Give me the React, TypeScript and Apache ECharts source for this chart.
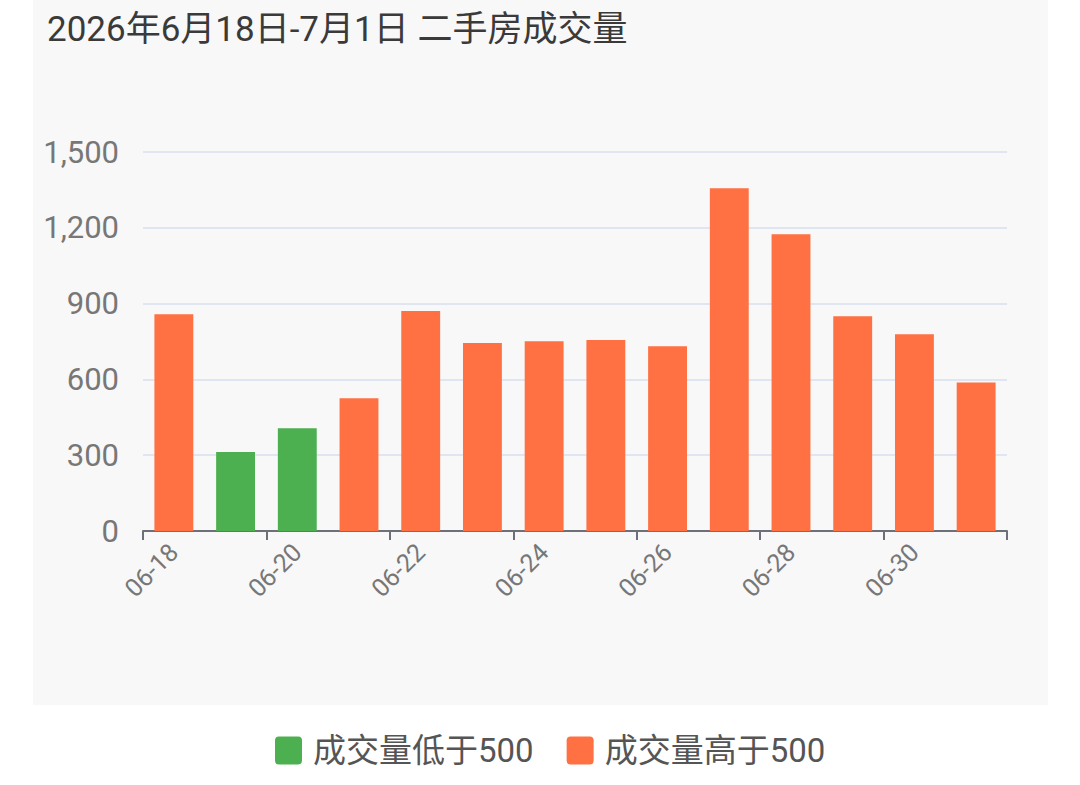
import React, { useEffect, useRef } from "react";
import * as echarts from "echarts";

const TITLE = "2026年6月18日-7月1日 二手房成交量";
const categories = ["06-18", "06-19", "06-20", "06-21", "06-22", "06-23", "06-24", "06-25", "06-26", "06-27", "06-28", "06-29", "06-30", "07-01"];
const values = [858, 313, 407, 525, 871, 744, 751, 756, 731, 1357, 1174, 850, 779, 588];
const THRESHOLD = 500;
const lowName = "成交量低于500";
const highName = "成交量高于500";
const lowColor = "#4CAF50";
const highColor = "#FF7043";

const FONT = "Roboto, 'Noto Sans CJK SC', sans-serif";

export default function App() {
  const ref = useRef<HTMLDivElement>(null);
  useEffect(() => {
    if (!ref.current) return;
    const chart = echarts.init(ref.current, undefined, { renderer: "svg" });
    const low = values.map((v) => (v < THRESHOLD ? v : "-"));
    const high = values.map((v) => (v >= THRESHOLD ? v : "-"));
    chart.setOption({
      animation: false,
      backgroundColor: "#ffffff",
      textStyle: { fontFamily: FONT },
      graphic: [
        {
          type: "rect",
          z: -10,
          silent: true,
          shape: { x: 33, y: 0, width: 1015, height: 705 },
          style: { fill: "#F8F8F8" },
        },
      ],
      title: {
        text: TITLE,
        left: 42,
        top: 7,
        textStyle: { fontSize: 35, fontWeight: "normal", color: "#3a3a3a", fontFamily: FONT },
      },
      legend: {
        bottom: 13,
        left: 270,
        icon: "path://M4,0 L23,0 Q27,0 27,4 L27,24 Q27,28 23,28 L4,28 Q0,28 0,24 L0,4 Q0,0 4,0 Z",
        itemWidth: 27,
        itemHeight: 28,
        itemGap: 33,
        textStyle: { fontSize: 33, color: "#555555", fontFamily: FONT, padding: [0, 0, 0, 6] },
        data: [lowName, highName],
      },
      grid: { left: 143, right: 73, top: 152, bottom: 254, containLabel: false },
      xAxis: {
        type: "category",
        data: categories,
        axisLine: { lineStyle: { color: "#6E7079", width: 2 } },
        axisTick: { show: true, length: 9, lineStyle: { color: "#6E7079", width: 2 }, interval: 1 },
        axisLabel: { interval: 1, rotate: 45, fontSize: 25, color: "#777777", margin: 17, fontFamily: FONT },
      },
      yAxis: {
        type: "value",
        min: 0,
        max: 1500,
        interval: 300,
        axisLabel: { fontSize: 31, color: "#777777", margin: 24, fontFamily: FONT },
        splitLine: { lineStyle: { color: "#E0E6F1", width: 2 } },
      },
      series: [
        { name: lowName, type: "bar", stack: "total", data: low, barWidth: "63%", itemStyle: { color: lowColor } },
        { name: highName, type: "bar", stack: "total", data: high, barWidth: "63%", itemStyle: { color: highColor } },
      ],
    });
    return () => chart.dispose();
  }, []);
  return <div ref={ref} style={{ position: "absolute", left: 0, top: 0, width: 1080, height: 785 }} />;
}
